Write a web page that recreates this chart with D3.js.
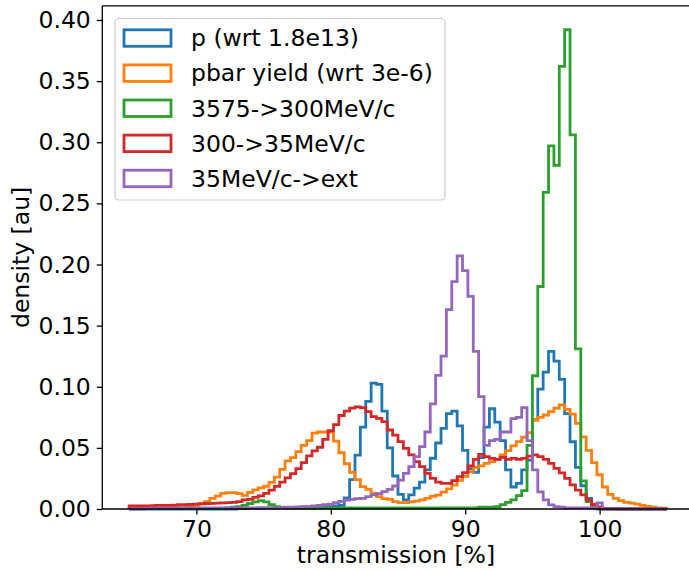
<!DOCTYPE html>
<html>
<head>
<meta charset="utf-8">
<script src="https://cdn.jsdelivr.net/npm/d3@7"></script>
<style>
  html, body { margin: 0; padding: 0; background: #fff; }
  svg { display: block; }
  text { font-family: "DejaVu Sans", sans-serif; fill: #000; }
</style>
</head>
<body>
<svg id="chart" width="689" height="570"></svg>
<script>
// ---- data ----
const binStart = 65;
const binWidth = 0.4;
const xTicks = [70, 80, 90, 100];
const yTicks = [0, 0.05, 0.10, 0.15, 0.20, 0.25, 0.30, 0.35, 0.40];
const seriesNames = ["p (wrt 1.8e13)", "pbar yield (wrt 3e-6)", "3575->300MeV/c", "300->35MeV/c", "35MeV/c->ext"];
const seriesColors = ["#1f77b4", "#ff7f0e", "#2ca02c", "#d62728", "#9467bd"];

const pValues = [
  0,0,0,0,0,0,0,0,0,0,
  0,0,0,0,0,0,0,0,0,0,
  0.0003,0.0003,0.0005,0.0005,0.0008,0.001,0.001,0.001,0.0012,0.0012,
  0.0012,0.0015,0.0015,0.0015,0.0018,0.0018,0.002,0.002,0.0025,0.003,
  0.009,0.024,0.044,0.067,0.088,0.103,0.102,0.080,0.050,0.027,
  0.012,0.0074,0.0115,0.017,0.022,0.032,0.0415,0.054,0.066,0.078,
  0.080,0.068,0.048,0.033,0.030,0.042,0.067,0.082,0.071,0.056,
  0.032,0.018,0.021,0.032,0.040,0.073,0.098,0.112,0.129,0.121,
  0.106,0.078,0.055,0.034,0.019,0.0087,0.003,0.001,0,0,
  0,0,0,0,0,0,0,0,0,0
];
const pbarValues = [
  0.001,0.001,0.001,0.001,0.0012,0.0012,0.0015,0.0015,0.0018,0.002,
  0.002,0.0025,0.003,0.0046,0.006,0.0087,0.0106,0.0128,0.0134,0.0134,
  0.0125,0.0112,0.0135,0.0157,0.0172,0.0186,0.0217,0.026,0.0324,0.0394,
  0.042,0.047,0.052,0.056,0.062,0.063,0.063,0.063,0.0555,0.046,
  0.037,0.030,0.024,0.0183,0.016,0.0128,0.0101,0.0085,0.0079,0.006,
  0.0052,0.0052,0.0058,0.0065,0.0075,0.0087,0.0103,0.0114,0.0138,0.0165,
  0.0196,0.0235,0.0268,0.0305,0.034,0.0352,0.0374,0.0387,0.0406,0.0442,
  0.0477,0.0516,0.0551,0.0587,0.0625,0.0728,0.075,0.0769,0.0796,0.0825,
  0.0851,0.0815,0.0776,0.070,0.059,0.048,0.038,0.028,0.018,0.012,
  0.0087,0.0068,0.0055,0.0048,0.004,0.003,0.0022,0.0015,0.001,0.0006
];
const greenValues = [
  0.0003,0.0003,0.0003,0.0003,0.0003,0.0003,0.0003,0.0003,0.0003,0.0003,
  0.0003,0.0003,0.0003,0.0003,0.0003,0.0003,0.0003,0.0003,0.001,0.0015,
  0.002,0.003,0.0045,0.0058,0.0068,0.0058,0.0035,0.002,0.0012,0.0008,
  0.0008,0.0008,0.0008,0.0008,0.0008,0.0008,0.0008,0.0008,0.0008,0.0008,
  0.0008,0.0008,0.0008,0.0008,0.0008,0.0008,0.0008,0.0008,0.0008,0.0008,
  0.0008,0.0008,0.0008,0.0008,0.0008,0.0008,0.0008,0.001,0.001,0.001,
  0.001,0.001,0.001,0.001,0.001,0.0015,0.0015,0.0015,0.002,0.0036,
  0.0055,0.0074,0.011,0.015,0.052,0.109,0.182,0.259,0.297,0.281,
  0.362,0.392,0.306,0.131,0.023,0.006,0.001,0,0,0,
  0,0,0,0,0,0,0,0,0,0
];
const redValues = [
  0.0025,0.0025,0.0025,0.0025,0.0028,0.003,0.003,0.003,0.0032,0.0035,
  0.0035,0.0038,0.004,0.0042,0.0045,0.0046,0.0048,0.005,0.0052,0.0055,
  0.006,0.0074,0.0079,0.0095,0.0108,0.0128,0.0155,0.0185,0.022,0.0255,
  0.029,0.033,0.038,0.0435,0.0475,0.0505,0.057,0.064,0.069,0.0765,
  0.080,0.0825,0.0835,0.083,0.0796,0.0755,0.0742,0.0715,0.0646,0.0605,
  0.0551,0.0496,0.0442,0.0387,0.0347,0.0292,0.0251,0.022,0.021,0.021,
  0.0232,0.0264,0.0297,0.0352,0.0406,0.0447,0.0428,0.0414,0.0406,0.0422,
  0.0406,0.0414,0.0406,0.0414,0.0433,0.0442,0.0428,0.0406,0.0374,0.0333,
  0.0295,0.025,0.0198,0.0155,0.0115,0.0075,0.0037,0.0017,0.0005,0.0002,
  0.0002,0,0,0,0,0,0,0,0,0
];
const purpleValues = [
  0,0,0,0.0005,0.0006,0.0006,0.0006,0.0007,0.0007,0.0008,
  0.0008,0.0008,0.0008,0.0009,0.0009,0.0009,0.001,0.001,0.001,0.001,
  0.001,0.001,0.001,0.001,0.001,0.001,0.001,0.001,0.001,0.0015,
  0.0015,0.0015,0.002,0.002,0.0025,0.003,0.0035,0.004,0.0052,0.0062,
  0.0072,0.0078,0.0085,0.0087,0.0101,0.0115,0.0125,0.0142,0.016,0.0188,
  0.0237,0.0292,0.0347,0.0428,0.051,0.063,0.086,0.1093,0.125,0.163,
  0.186,0.207,0.195,0.174,0.129,0.092,0.052,0.056,0.057,0.063,
  0.063,0.074,0.075,0.083,0.056,0.032,0.014,0.0074,0.0033,0.002,
  0.0015,0.001,0.001,0.001,0.001,0.001,0.001,0.005,0,0,
  0,0,0,0,0,0,0,0,0,0
];
const allSeries = [pValues, pbarValues, greenValues, redValues, purpleValues];

// ---- layout ----
const svg = d3.select("#chart");
const plot = { left: 102.3, top: 5.8, bottom: 509 };
const x = d3.scaleLinear().domain([63, 107]).range([plot.left, plot.left + 591.4]);
const y = d3.scaleLinear().domain([0, 0.4116]).range([plot.bottom, plot.top]);
const fontSize = 23.5;

// histogram step outlines
const edges = d3.range(pValues.length + 1).map(i => binStart + i * binWidth);
function stepPath(vals) {
  const p = d3.path();
  p.moveTo(x(edges[0]), y(0));
  vals.forEach((v, i) => {
    p.lineTo(x(edges[i]), y(v));
    p.lineTo(x(edges[i + 1]), y(v));
  });
  p.lineTo(x(edges[vals.length]), y(0));
  return p.toString();
}
const histG = svg.append("g");
allSeries.forEach((vals, k) => {
  histG.append("path")
    .attr("d", stepPath(vals))
    .attr("fill", "none")
    .attr("stroke", seriesColors[k])
    .attr("stroke-width", 2.8)
    .attr("stroke-linejoin", "miter");
});

// spines
const right = x(107);
svg.append("line").attr("x1", plot.left).attr("x2", plot.left).attr("y1", plot.top).attr("y2", plot.bottom)
  .attr("stroke", "#000").attr("stroke-width", 1.3);
svg.append("line").attr("x1", plot.left).attr("x2", right).attr("y1", plot.bottom).attr("y2", plot.bottom)
  .attr("stroke", "#000").attr("stroke-width", 1.3);
svg.append("line").attr("x1", plot.left).attr("x2", right).attr("y1", plot.top).attr("y2", plot.top)
  .attr("stroke", "#000").attr("stroke-width", 1.3);
svg.append("line").attr("x1", right).attr("x2", right).attr("y1", plot.top).attr("y2", plot.bottom)
  .attr("stroke", "#000").attr("stroke-width", 1.3);

// axes
const xAxis = d3.axisBottom(x).tickValues(xTicks).tickSize(5.5).tickPadding(6).tickFormat(d3.format("d"));
const gx = svg.append("g").attr("transform", `translate(0,${plot.bottom})`).call(xAxis);
gx.select(".domain").remove();
gx.selectAll(".tick line").attr("stroke", "#000").attr("stroke-width", 1.3);
gx.selectAll(".tick text").attr("font-size", fontSize).attr("font-family", "DejaVu Sans").attr("fill", "#000");

const yAxis = d3.axisLeft(y).tickValues(yTicks).tickSize(5.5).tickPadding(6).tickFormat(d3.format(".2f"));
const gy = svg.append("g").attr("transform", `translate(${plot.left},0)`).call(yAxis);
gy.select(".domain").remove();
gy.selectAll(".tick line").attr("stroke", "#000").attr("stroke-width", 1.3);
gy.selectAll(".tick text").attr("font-size", fontSize).attr("font-family", "DejaVu Sans").attr("fill", "#000");

// axis labels
svg.append("text").attr("x", (plot.left + right) / 2 - 2).attr("y", 563)
  .attr("text-anchor", "middle").attr("font-size", fontSize).text("transmission [%]");
svg.append("text").attr("transform", `translate(29,${(plot.top + plot.bottom) / 2}) rotate(-90)`)
  .attr("text-anchor", "middle").attr("font-size", fontSize).text("density [au]");

// legend
const lg = svg.append("g");
lg.append("rect").attr("x", 115).attr("y", 18.5).attr("width", 330).attr("height", 181.5)
  .attr("rx", 4).attr("fill", "#fff").attr("fill-opacity", 0.8).attr("stroke", "#cccccc").attr("stroke-width", 1.2);
seriesNames.forEach((name, k) => {
  const cy = 37.8 + k * 35.1;
  lg.append("rect").attr("x", 124).attr("y", cy - 8).attr("width", 47).attr("height", 16.5)
    .attr("fill", "none").attr("stroke", seriesColors[k]).attr("stroke-width", 2.8);
  lg.append("text").attr("x", 191).attr("y", cy + 8.5).attr("font-size", fontSize).text(name);
});
</script>
</body>
</html>
